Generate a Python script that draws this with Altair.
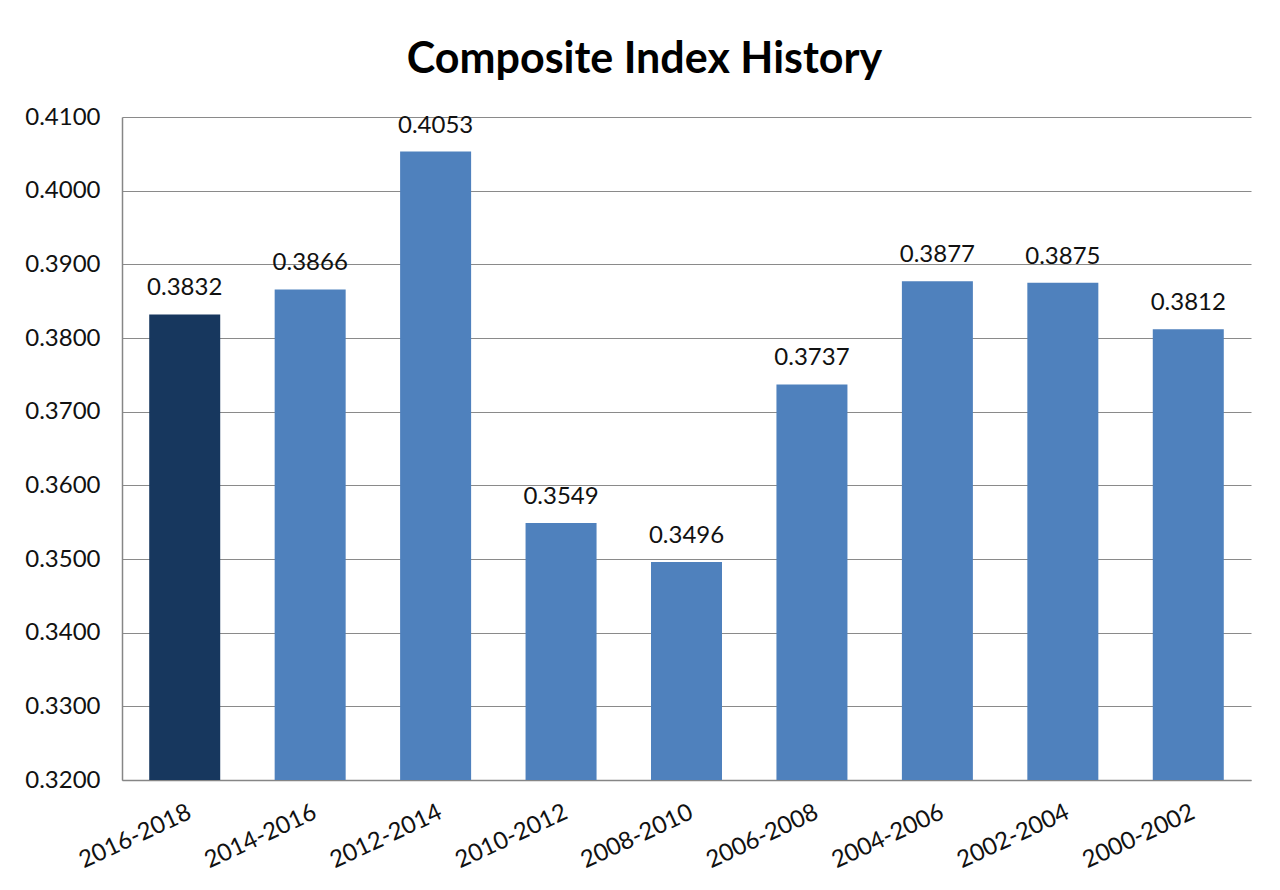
import altair as alt
import pandas as pd

periods = ["2016-2018", "2014-2016", "2012-2014", "2010-2012", "2008-2010",
           "2006-2008", "2004-2006", "2002-2004", "2000-2002"]
values = [0.3832, 0.3866, 0.4053, 0.3549, 0.3496, 0.3737, 0.3877, 0.3875, 0.3812]
groups = ["current", "past", "past", "past", "past", "past", "past", "past", "past"]
y_ticks = [0.32, 0.33, 0.34, 0.35, 0.36, 0.37, 0.38, 0.39, 0.40, 0.41]

df = pd.DataFrame({"period": periods, "value": values, "group": groups})

FONT = "Lato"

x_enc = alt.X("period:N", sort=periods, title=None,
              scale=alt.Scale(paddingInner=0.434, paddingOuter=0.217),
              axis=alt.Axis(labelAngle=-25, labelAlign="right", labelBaseline="top",
                            labelPadding=20, ticks=False, labelFontSize=24,
                            labelFont=FONT, labelColor="#111",
                            domainColor="#868686", domainWidth=1.5, grid=False))
y_enc = alt.Y("value:Q", title=None,
              scale=alt.Scale(domain=[0.32, 0.41], nice=False, zero=False),
              axis=alt.Axis(values=y_ticks, format=".4f", ticks=False, labelPadding=22,
                            labelFontSize=24, labelFont=FONT, labelColor="#111",
                            domainColor="#868686", domainWidth=1.5,
                            gridColor="#8a8a8a", gridWidth=1.2))

base = alt.Chart(df)

bars = base.mark_bar().encode(
    x=x_enc,
    y=y_enc,
    y2=alt.datum(0.32),
    color=alt.Color("group:N", scale=alt.Scale(domain=["current", "past"],
                                               range=["#17375E", "#4F81BD"]), legend=None),
)

labels = base.mark_text(baseline="alphabetic", dy=-19, fontSize=24, font=FONT,
                        color="#111").encode(
    x=alt.X("period:N", sort=periods),
    y=alt.Y("value:Q"),
    text=alt.Text("value:Q", format=".4f"),
)

chart = (bars + labels).properties(
    width=1129, height=663,
    title=alt.TitleParams("Composite Index History", fontSize=43, font=FONT,
                          fontWeight="bold", color="#000", anchor="middle",
                          dx=-42, offset=23),
    padding={"left": 114, "top": 109, "right": 13, "bottom": 100},
    autosize=alt.AutoSizeParams(type="none"),
    background="white",
).configure_view(strokeWidth=0, stroke="transparent")

chart.save("out.html", embed_options={"renderer": "svg", "actions": False})
